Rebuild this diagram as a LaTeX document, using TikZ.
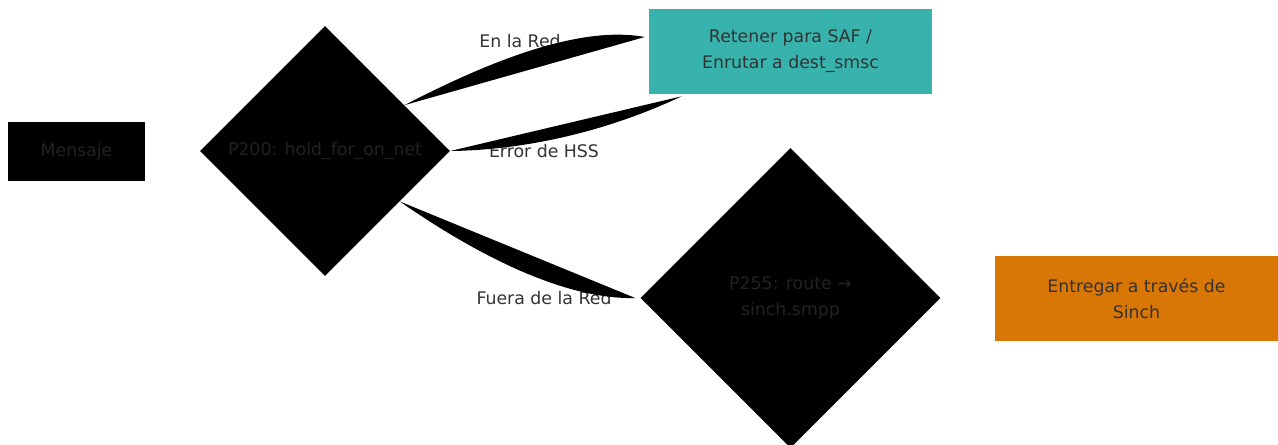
\documentclass[tikz,border=0pt]{standalone}
\usepackage{fontspec}
\setmainfont{DejaVu Sans}
\usetikzlibrary{shapes.geometric, calc}

\definecolor{tealbox}{RGB}{56,178,172}
\definecolor{orangebox}{RGB}{217,119,6}
\definecolor{txtgray}{RGB}{51,51,51}
\definecolor{txtdark}{RGB}{34,34,34}

\begin{document}
\begin{tikzpicture}[x=0.75pt, y=-0.75pt,
  every node/.style={font=\fontsize{13}{19.5}\selectfont, align=center, inner sep=0pt},
  blackbox/.style={fill=black, text=txtdark, minimum width=102.75pt, minimum height=44.25pt},
  decision/.style={diamond, aspect=1, fill=black, text=txtdark},
  colorbox/.style={text=txtgray, minimum width=212.25pt, minimum height=63.75pt},
  edgelbl/.style={text=txtgray},
  edgefill/.style={fill=black}]
  \useasboundingbox (0,0) rectangle (1278,444);

  % 节点
  \node[blackbox] (msg) at (76.5,151.5) {Mensaje};
  \node[decision, minimum width=187.5pt, minimum height=187.5pt] (p200) at (325,151) {P200: hold\_for\_on\_net};
  \node[colorbox, fill=tealbox] (saf) at (790.5,51.5) {Retener para SAF /\\Enrutar a dest\_smsc};
  \node[decision, minimum width=225pt, minimum height=225pt] (p255) at (790.5,298) {P255: route →\\sinch.smpp};
  \node[colorbox, fill=orangebox] (sinch) at (1136.5,298.5) {Entregar a través de\\Sinch};

  % 连线标签
  \node[edgelbl] (lblon) at (520,41) {En la Red};
  \node[edgelbl] (lblhss) at (544,151) {Error de HSS};
  \node[edgelbl] (lbloff) at (544,298) {Fuera de la Red};

  % 连线
  \coordinate (safin) at ($(saf.west)+(-4,-14.5)$);
  \coordinate (hssin) at ($(saf.south west)+(33,2)$);
  \coordinate (offin) at ($(p255.west)+(-5,0)$);
  \fill[edgefill] (p200.30) .. controls +(85,-44) and +(-65,-12) .. (safin) -- cycle;
  \fill[edgefill] (p200.east) .. controls +(78,-1) and +(-72,34) .. (hssin) -- cycle;
  \fill[edgefill] (p200.-34) .. controls +(69,48) and +(-75,2) .. (offin) -- cycle;
\end{tikzpicture}
\end{document}
